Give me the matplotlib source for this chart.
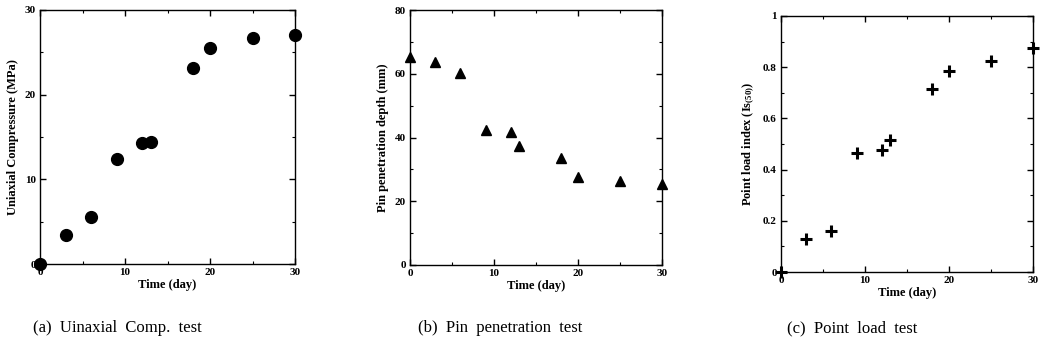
import matplotlib
matplotlib.use("Agg")
import matplotlib.pyplot as plt
from matplotlib.ticker import MultipleLocator

plt.rcParams['font.family'] = ['Liberation Serif', 'DejaVu Serif']
plt.rcParams['mathtext.fontset'] = 'custom'
plt.rcParams['mathtext.rm'] = 'Liberation Serif'
plt.rcParams['mathtext.bf'] = 'Liberation Serif:bold'
plt.rcParams['mathtext.it'] = 'Liberation Serif:italic'

days = [0, 3, 6, 9, 12, 13, 18, 20, 25, 30]
ucs = [0, 3.4, 5.5, 12.4, 14.3, 14.4, 23.2, 25.5, 26.7, 27.1]
pin_days = [0, 3, 6, 9, 12, 13, 18, 20, 25, 30]
pin_depth = [65.2, 63.7, 60.2, 42.3, 41.8, 37.4, 33.5, 27.7, 26.4, 25.3]
pl_days = [0, 3, 6, 9, 12, 13, 18, 20, 25, 30]
pl_index = [0.0, 0.13, 0.159, 0.465, 0.477, 0.515, 0.716, 0.785, 0.825, 0.876]

xlabel = "Time (day)"
ylabels = ["Uniaxial Compressure (MPa)", "Pin penetration depth (mm)",
           r"Point load index (Is$_{\mathbf{(50)}}$)"]
captions = ["(a)  Uinaxial  Comp.  test", "(b)  Pin  penetration  test",
            "(c)  Point  load  test"]

W, H = 1044, 350
fig = plt.figure(figsize=(W / 100, H / 100), dpi=100)

def ax_at(l, r, t, b):
    return fig.add_axes([l / W, (H - b) / H, (r - l) / W, (b - t) / H])

axes = [ax_at(40, 295, 10, 264), ax_at(410, 662, 10, 265), ax_at(781, 1033, 16, 272)]

axes[0].plot(days, ucs, 'o', color='black', markersize=8.5, clip_on=False, zorder=5)
axes[0].set_ylim(0, 30)
axes[0].yaxis.set_major_locator(MultipleLocator(10))
axes[0].yaxis.set_minor_locator(MultipleLocator(5))

axes[1].plot(pin_days, pin_depth, '^', color='black', markersize=6.5, clip_on=False, zorder=5)
axes[1].set_ylim(0, 80)
axes[1].yaxis.set_major_locator(MultipleLocator(20))
axes[1].yaxis.set_minor_locator(MultipleLocator(10))

axes[2].plot(pl_days, pl_index, '+', color='black', markersize=8, markeredgewidth=2.2,
             clip_on=False, zorder=5)
axes[2].set_ylim(0, 1)
axes[2].yaxis.set_major_locator(MultipleLocator(0.2))
axes[2].yaxis.set_minor_locator(MultipleLocator(0.1))
axes[2].yaxis.set_major_formatter(plt.FuncFormatter(lambda v, p: "0" if v == 0 else ("1" if abs(v - 1) < 1e-9 else f"{v:.1f}")))

for ax, yl in zip(axes, ylabels):
    ax.set_xlim(0, 30)
    ax.xaxis.set_major_locator(MultipleLocator(10))
    ax.xaxis.set_minor_locator(MultipleLocator(5))
    ax.tick_params(which='both', direction='in', top=True, right=True, labelsize=8, pad=3)
    ax.tick_params(which='major', length=4, width=1)
    ax.tick_params(which='minor', length=2.5, width=0.8)
    for lab in ax.get_xticklabels() + ax.get_yticklabels():
        lab.set_fontweight('bold')
    for s in ax.spines.values():
        s.set_linewidth(1)
    ax.set_xlabel(xlabel, fontsize=9, fontweight='bold', labelpad=1)
    ax.set_ylabel(yl, fontsize=9, fontweight='bold', labelpad=4)

cap_x = [33, 418, 787]
for x, c in zip(cap_x, captions):
    fig.text(x / W, (H - 328) / H, c, fontsize=12, ha='left', va='center')

fig.savefig("out.png", dpi=100)
